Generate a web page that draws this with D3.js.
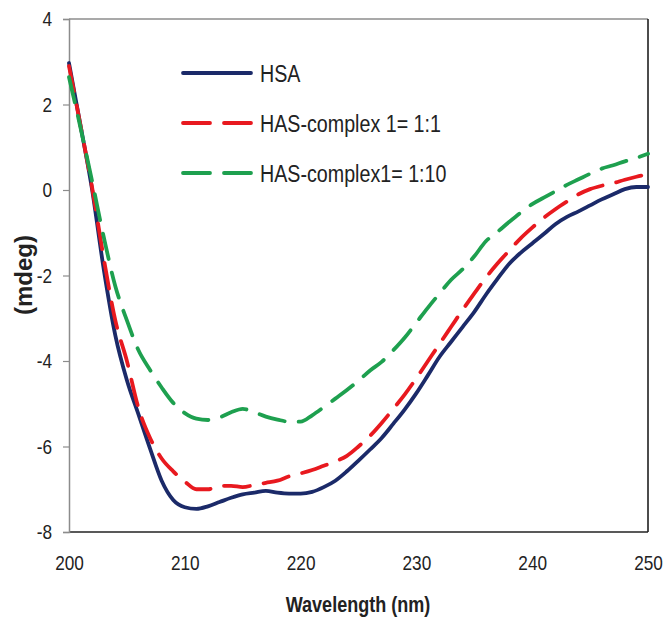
<!DOCTYPE html>
<html>
<head>
<meta charset="utf-8">
<script src="https://cdn.jsdelivr.net/npm/d3@7/dist/d3.min.js"></script>
<style>
  html, body { margin: 0; padding: 0; background: #fff; }
  svg { display: block; }
  text { font-family: "Liberation Sans Narrow", "Liberation Sans", Arial, sans-serif; fill: #222; }
</style>
</head>
<body>
<svg id="chart" width="667" height="621"></svg>
<script>
// ---- data ----
const wavelengths = d3.range(200, 251, 1);
const seriesNames = ["HSA", "HAS-complex 1= 1:1", "HAS-complex1= 1:10"];
const hsa = [2.97, 1.5, 0.0, -1.85, -3.4, -4.45, -5.25, -6.05, -6.8, -7.25,
  -7.42, -7.46, -7.4, -7.3, -7.2, -7.12, -7.08, -7.04, -7.08, -7.1,
  -7.1, -7.06, -6.95, -6.8, -6.58, -6.33, -6.07, -5.8, -5.47, -5.13,
  -4.75, -4.33, -3.9, -3.55, -3.2, -2.85, -2.45, -2.08, -1.73, -1.47,
  -1.25, -1.03, -0.8, -0.63, -0.5, -0.36, -0.22, -0.1, 0.02, 0.07, 0.07];
const complex11 = [2.9, 1.5, 0.05, -1.6, -3.05, -4.0, -5.1, -5.8, -6.28, -6.58,
  -6.82, -7.0, -7.0, -6.92, -6.92, -6.95, -6.9, -6.85, -6.8, -6.7,
  -6.63, -6.55, -6.45, -6.35, -6.22, -6.0, -5.75, -5.45, -5.12, -4.78,
  -4.4, -4.0, -3.6, -3.2, -2.8, -2.42, -2.05, -1.72, -1.42, -1.13,
  -0.88, -0.65, -0.45, -0.27, -0.1, 0.02, 0.1, 0.16, 0.24, 0.31, 0.37];
const complex110 = [2.64, 1.45, 0.2, -1.1, -2.25, -3.05, -3.75, -4.21, -4.62, -4.98,
  -5.22, -5.35, -5.38, -5.32, -5.2, -5.12, -5.2, -5.3, -5.37, -5.42,
  -5.42, -5.27, -5.08, -4.88, -4.68, -4.46, -4.22, -4.02, -3.75, -3.45,
  -3.1, -2.75, -2.42, -2.1, -1.85, -1.55, -1.2, -0.98, -0.75, -0.53,
  -0.33, -0.18, -0.03, 0.12, 0.25, 0.38, 0.5, 0.58, 0.67, 0.75, 0.85];
const xTicks = [200, 210, 220, 230, 240, 250];
const yTicks = [-8, -6, -4, -2, 0, 2, 4];
const xTitle = "Wavelength (nm)";
const yTitle = "(mdeg)";

// ---- styles ----
const colors = ["#1b2a69", "#e8191f", "#1ea04f"];
const dashes = [null, "26,14", "26,14"];
const SX = 0.82; // horizontal squeeze to mimic a narrow font

const svg = d3.select("#chart");
const mLeft = 69, mRight = 648, mTop = 19, mBottom = 532;
const x = d3.scaleLinear().domain([200, 250]).range([mLeft, mRight]);
const y = d3.scaleLinear().domain([-8, 4]).range([mBottom, mTop]);

function squeeze(sel) {
  sel.each(function () {
    const t = d3.select(this);
    const tx = +t.attr("x") || 0, ty = +t.attr("y") || 0;
    t.attr("x", 0).attr("y", 0)
      .attr("transform", `translate(${tx},${ty}) scale(${SX},1)`);
  });
}
const plain = d => String(d); // keep ASCII hyphen for negatives

// frame
svg.append("line").attr("x1", mLeft).attr("x2", mRight).attr("y1", mTop).attr("y2", mTop)
  .attr("stroke", "#8c8c8c").attr("stroke-width", 1.5);
svg.append("line").attr("x1", mRight).attr("x2", mRight).attr("y1", mTop).attr("y2", mBottom)
  .attr("stroke", "#111").attr("stroke-width", 1.5);
svg.append("line").attr("x1", mLeft).attr("x2", mRight).attr("y1", mBottom).attr("y2", mBottom)
  .attr("stroke", "#222").attr("stroke-width", 1.5);

// y axis
const yAxis = d3.axisLeft(y).tickValues(yTicks).tickSize(6).tickPadding(11)
  .tickFormat(plain);
const gy = svg.append("g").attr("transform", `translate(${mLeft},0)`).call(yAxis);
gy.select(".domain").attr("stroke", "#8c8c8c").attr("stroke-width", 1.5);
gy.selectAll(".tick line").attr("stroke", "#8c8c8c").attr("stroke-width", 1.2);
gy.selectAll(".tick text").style("font-size", "21px")
  .style("font-family", '"Liberation Sans", Arial, sans-serif')
  .attr("fill", "#222").call(squeeze);

// x axis
const xAxis = d3.axisBottom(x).tickValues(xTicks).tickSize(0).tickPadding(23)
  .tickFormat(plain);
const gx = svg.append("g").attr("transform", `translate(0,${mBottom})`).call(xAxis);
gx.select(".domain").remove();
gx.selectAll(".tick text").style("font-size", "21px")
  .style("font-family", '"Liberation Sans", Arial, sans-serif')
  .attr("fill", "#222").call(squeeze);

// titles
svg.append("text").attr("x", 358).attr("y", 612).attr("text-anchor", "middle")
  .style("font-size", "22px").style("font-weight", "bold").text(xTitle).call(squeeze);
svg.append("text").attr("transform", "translate(32,275) rotate(-90)")
  .attr("text-anchor", "middle")
  .style("font-size", "24px").style("font-weight", "bold").text(yTitle);

// lines
const allSeries = [hsa, complex11, complex110];
const line = d3.line().x(d => x(d[0])).y(d => y(d[1])).curve(d3.curveMonotoneX);
allSeries.forEach((vals, i) => {
  const pts = wavelengths.map((w, j) => [w, vals[j]]);
  const p = svg.append("path").datum(pts).attr("d", line)
    .attr("fill", "none").attr("stroke", colors[i])
    .attr("stroke-width", 3.8).attr("stroke-linejoin", "round")
    .attr("stroke-linecap", "round");
  if (dashes[i]) p.attr("stroke-dasharray", dashes[i]);
});

// legend
const legY = [73, 123, 173];
seriesNames.forEach((name, i) => {
  const l = svg.append("line").attr("x1", 183).attr("x2", 251)
    .attr("y1", legY[i]).attr("y2", legY[i])
    .attr("stroke", colors[i]).attr("stroke-width", 3.8).attr("stroke-linecap", "round");
  if (dashes[i]) l.attr("stroke-dasharray", "27,14");
  svg.append("text").attr("x", 260).attr("y", legY[i]).attr("dy", "0.36em")
    .style("font-size", "24px").text(name).call(squeeze);
});
</script>
</body>
</html>
